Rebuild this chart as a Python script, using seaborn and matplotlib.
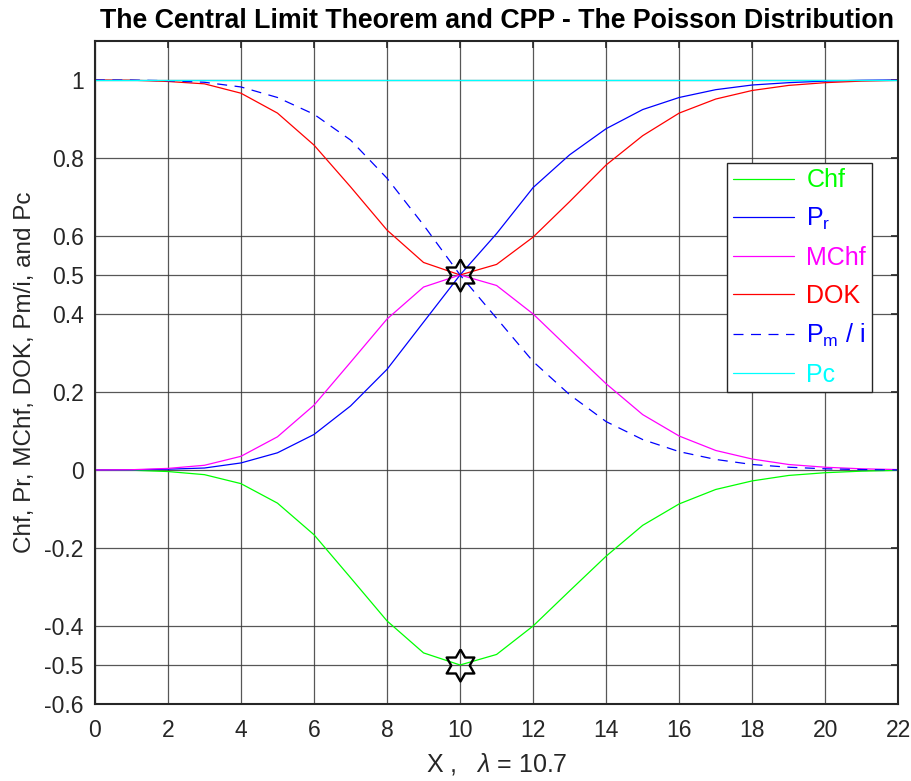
import matplotlib
matplotlib.use("Agg")
import matplotlib.pyplot as plt
import numpy as np
import pandas as pd
import seaborn as sns

# values
X = list(range(0, 23))
PR = [0.0, 0.0003, 0.002, 0.005, 0.018, 0.044, 0.091, 0.164, 0.258, 0.379, 0.5,
      0.606, 0.724, 0.808, 0.875, 0.924, 0.955, 0.975, 0.987, 0.993, 0.997, 0.999, 1.0]
PM_I = [1.0, 0.9997, 0.998, 0.994, 0.982, 0.955, 0.912, 0.846, 0.748, 0.628, 0.5,
        0.389, 0.278, 0.193, 0.124, 0.078, 0.047, 0.027, 0.014, 0.007, 0.003, 0.001, 0.0]
MCHF = [0.0, 0.0006, 0.004, 0.012, 0.035, 0.085, 0.166, 0.276, 0.387, 0.469, 0.5,
        0.473, 0.4, 0.31, 0.221, 0.142, 0.087, 0.05, 0.028, 0.014, 0.007, 0.003, 0.001]
CHF = [-0.0, -0.0006, -0.004, -0.012, -0.035, -0.085, -0.166, -0.276, -0.387, -0.469, -0.5,
       -0.473, -0.4, -0.31, -0.221, -0.142, -0.087, -0.05, -0.028, -0.014, -0.007, -0.003, -0.001]
DOK = [1.0, 0.9994, 0.996, 0.99, 0.966, 0.915, 0.833, 0.726, 0.615, 0.532, 0.5,
       0.527, 0.597, 0.688, 0.782, 0.857, 0.915, 0.951, 0.973, 0.986, 0.993, 0.997, 0.999]
PC = [1.0] * 23

STAR_X = [10, 10]
STAR_Y = [0.5, -0.5]

Y_TICKS = [-0.6, -0.5, -0.4, -0.2, 0, 0.2, 0.4, 0.5, 0.6, 0.8, 1]
Y_LABELS = ["-0.6", "-0.5", "-0.4", "-0.2", "0", "0.2", "0.4", "0.5", "0.6", "0.8", "1"]
X_TICKS = list(range(0, 23, 2))

SERIES = [
    ("Chf", CHF, "#00ff00", "-"),
    ("P$_{\\rm r}$", PR, "#0000ff", "-"),
    ("MChf", MCHF, "#ff00ff", "-"),
    ("DOK", DOK, "#ff0000", "-"),
    ("P$_{\\rm m}$ / i", PM_I, "#0000ff", (0, (8, 6))),
    ("Pc", PC, "#00ffff", "-"),
]


def hexagram():
    # six-pointed star outline, point up
    ang = np.pi / 2 + np.arange(12) * np.pi / 6
    rad = np.where(np.arange(12) % 2 == 0, 1.0, 1 / np.sqrt(3))
    pts = np.column_stack([rad * np.cos(ang), rad * np.sin(ang)])
    return np.vstack([pts, pts[:1]])


def main() -> None:
    sns.set_style("white")
    plt.rcParams["font.family"] = ["Liberation Sans", "DejaVu Sans"]
    plt.rcParams["mathtext.fontset"] = "custom"
    plt.rcParams["mathtext.rm"] = "Liberation Sans"
    plt.rcParams["mathtext.it"] = "Liberation Sans:italic"

    fig = plt.figure(figsize=(9.12, 7.81), dpi=100)
    ax = fig.add_axes([0.104, 0.0986, 0.881, 0.849])

    for name, vals, color, ls in SERIES:
        df = pd.DataFrame({"x": X, "y": vals})
        sns.lineplot(data=df, x="x", y="y", ax=ax, color=color, linewidth=0.9,
                     linestyle=ls, label=name)

    # hexagram markers at the crossing points
    ax.plot(STAR_X, STAR_Y, linestyle="none", marker=hexagram(), markersize=23,
            markerfacecolor="none", markeredgecolor="black", markeredgewidth=1.7,
            zorder=5)

    ax.set_xlim(0, 22)
    ax.set_ylim(-0.6, 1.1)
    ax.set_xticks(X_TICKS)
    ax.set_yticks(Y_TICKS)
    ax.set_yticklabels(Y_LABELS)
    ax.grid(True, color="#3a3a3a", linewidth=0.9, alpha=0.85)
    ax.set_axisbelow(True)
    ax.tick_params(direction="in", length=5, width=1.2, labelsize=16.5,
                   colors="#262626", top=True, right=True)
    ax.tick_params(axis="x", pad=11)
    ax.tick_params(axis="y", pad=8)
    for sp in ax.spines.values():
        sp.set_color("#262626")
        sp.set_linewidth(1.5)

    ax.set_xlabel("X ,   $\\lambda$ = 10.7", fontsize=18, color="#262626", labelpad=6)
    ax.set_ylabel("Chf, Pr, MChf, DOK, Pm/i, and Pc", fontsize=17.5, color="#262626",
                  labelpad=6)
    ax.set_title("The Central Limit Theorem and CPP - The Poisson Distribution",
                 fontsize=19.3, fontweight="bold", color="black", pad=9)

    leg = ax.legend(loc="upper left", bbox_to_anchor=(0.787, 0.816), fontsize=18,
                    frameon=True, fancybox=False, handlelength=2.45,
                    handletextpad=0.5, labelspacing=0.55, borderpad=0.22,
                    borderaxespad=0)
    leg.get_frame().set_edgecolor("#262626")
    leg.get_frame().set_linewidth(1.0)
    leg.get_frame().set_alpha(1.0)
    for text, (_, _, color, _) in zip(leg.get_texts(), SERIES):
        text.set_color(color)

    fig.savefig("out.png", dpi=100)


if __name__ == "__main__":
    main()
